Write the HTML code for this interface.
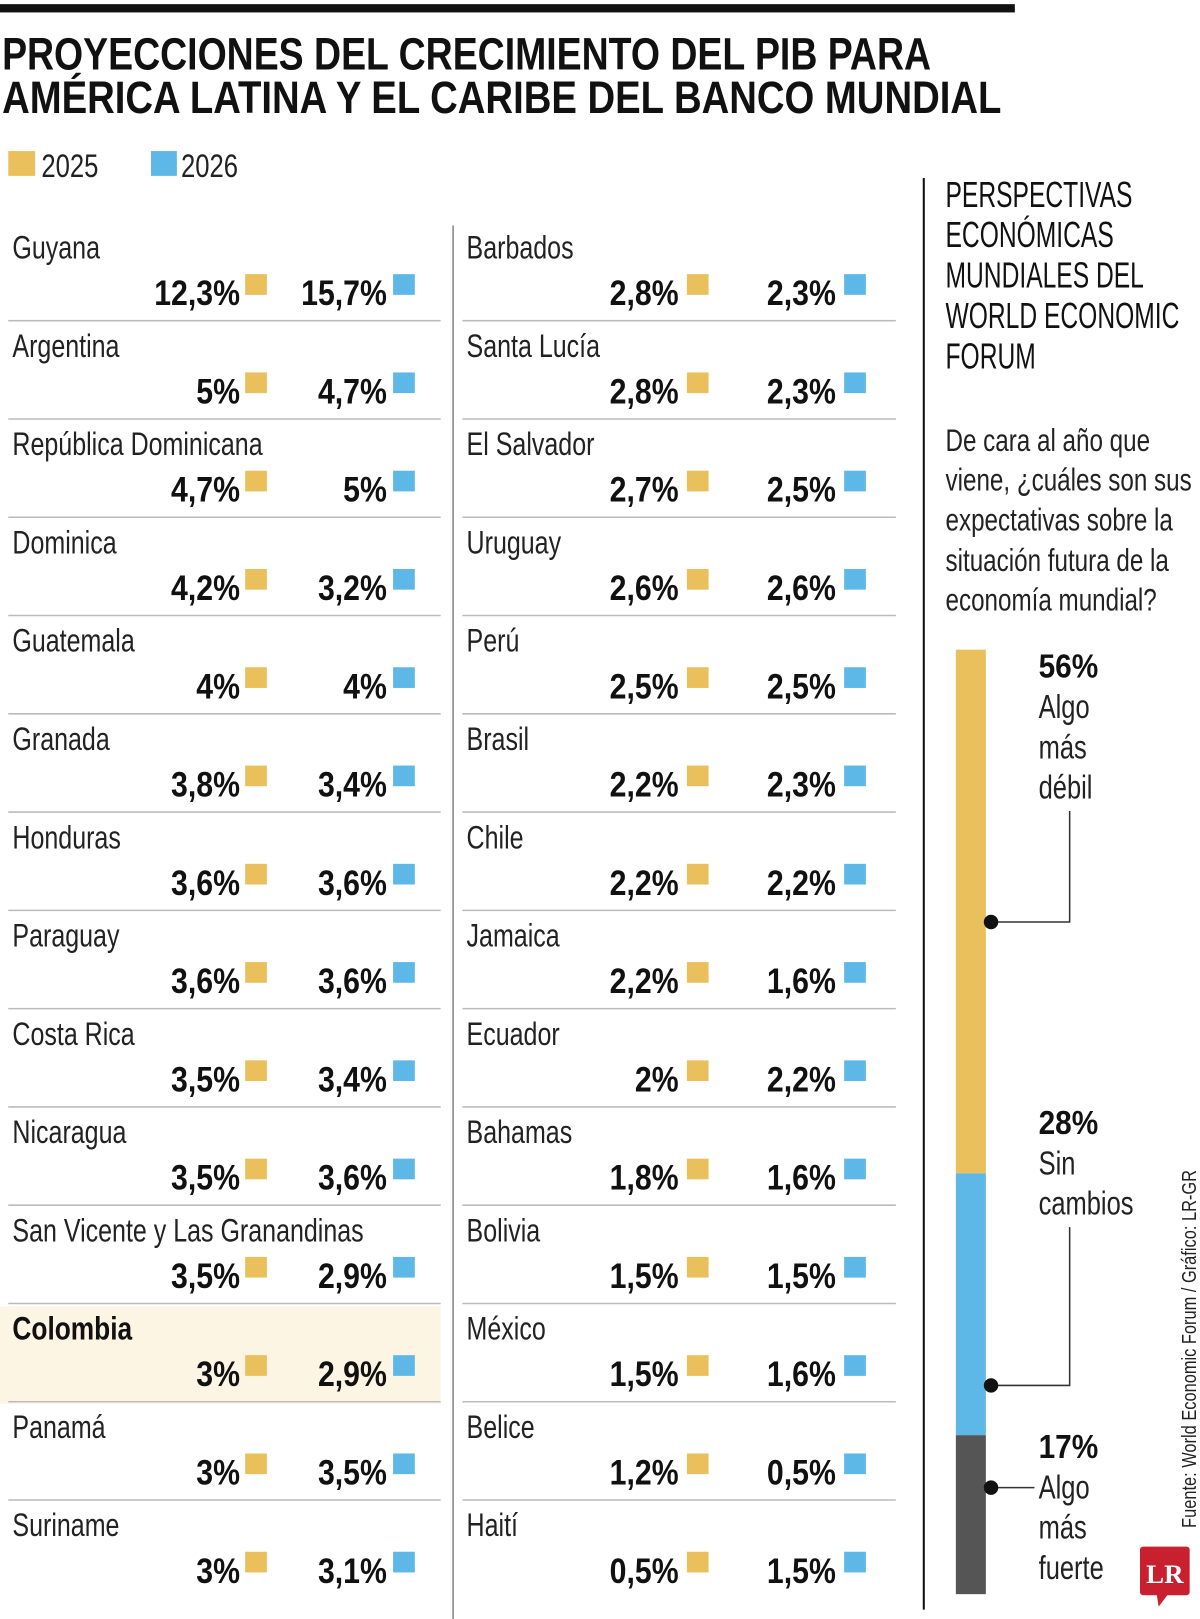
<!DOCTYPE html>
<html><head><meta charset="utf-8"><style>
html,body{margin:0;padding:0;background:#fff;}
svg{display:block;}
text{font-family:"Liberation Sans Narrow","Liberation Sans",sans-serif;}
</style></head><body>
<svg id="chart" width="1200" height="1619" viewBox="0 0 1160 1565" xmlns="http://www.w3.org/2000/svg">
<rect x="0" y="0" width="1160" height="1565" fill="#fff"/>
<rect x="0" y="4" width="981" height="8" fill="#111"/>
<text x="2" y="67" font-size="44" font-weight="bold" fill="#111" textLength="898" lengthAdjust="spacingAndGlyphs">PROYECCIONES DEL CRECIMIENTO DEL PIB PARA</text>
<text x="2" y="109" font-size="44" font-weight="bold" fill="#111" textLength="966" lengthAdjust="spacingAndGlyphs">AMÉRICA LATINA Y EL CARIBE DEL BANCO MUNDIAL</text>
<g>
<rect x="8" y="146" width="26" height="24" fill="#e9c05b"/>
<text transform="translate(40,171) scale(0.8,1)" font-size="31" fill="#222">2025</text>
<rect x="146" y="146" width="25" height="24" fill="#5db8e8"/>
<text transform="translate(175,171) scale(0.8,1)" font-size="31" fill="#222">2026</text>
</g>
<rect x="0" y="1263" width="426" height="94" fill="#fdf5e4"/>
<line x1="438" y1="218" x2="438" y2="1565" stroke="#888" stroke-width="1.5"/>
<line x1="893" y1="172" x2="893" y2="1556" stroke="#111" stroke-width="2"/>
<g id="rows"></g>

<g>
<text transform="translate(914,0) scale(0.68,1)" font-size="35" fill="#111">
<tspan x="0" y="200">PERSPECTIVAS</tspan><tspan x="0" y="239">ECONÓMICAS</tspan><tspan x="0" y="278">MUNDIALES DEL</tspan><tspan x="0" y="317">WORLD ECONOMIC</tspan><tspan x="0" y="356">FORUM</tspan></text>
<text transform="translate(914,0) scale(0.78,1)" font-size="30" fill="#222">
<tspan x="0" y="436">De cara al año que</tspan><tspan x="0" y="474">viene, ¿cuáles son sus</tspan><tspan x="0" y="513">expectativas sobre la</tspan><tspan x="0" y="552">situación futura de la</tspan><tspan x="0" y="590">economía mundial?</tspan></text>
<g id="stack"></g>
<text transform="translate(1156,1477) rotate(-90)" font-size="20" fill="#222" textLength="346" lengthAdjust="spacingAndGlyphs">Fuente: World Economic Forum / Gráfico: LR-GR</text>
<g>
<rect x="1102" y="1495" width="48" height="47" rx="3" fill="#c8202f"/>
<polygon points="1118,1540 1130,1540 1120,1553" fill="#c8202f"/>
<text x="1126" y="1530" style="font-family:'Liberation Serif',serif" font-size="26" font-weight="bold" fill="#fff" text-anchor="middle">LR</text>
</g>
</g>
</svg>
<script>
const leftCountries=["Guyana","Argentina","República Dominicana","Dominica","Guatemala","Granada","Honduras","Paraguay","Costa Rica","Nicaragua","San Vicente y Las Granandinas","Colombia","Panamá","Suriname"];
const left2025=[12.3,5,4.7,4.2,4,3.8,3.6,3.6,3.5,3.5,3.5,3,3,3];
const left2026=[15.7,4.7,5,3.2,4,3.4,3.6,3.6,3.4,3.6,2.9,2.9,3.5,3.1];
const rightCountries=["Barbados","Santa Lucía","El Salvador","Uruguay","Perú","Brasil","Chile","Jamaica","Ecuador","Bahamas","Bolivia","México","Belice","Haití"];
const right2025=[2.8,2.8,2.7,2.6,2.5,2.2,2.2,2.2,2,1.8,1.5,1.5,1.2,0.5];
const right2026=[2.3,2.3,2.5,2.6,2.5,2.3,2.2,1.6,2.2,1.6,1.5,1.6,0.5,1.5];
const stackLabels=["Algo más débil","Sin cambios","Algo más fuerte"];
const stackValues=[56,28,17];

const NS="http://www.w3.org/2000/svg";
function mk(tag,attrs,parent){const e=document.createElementNS(NS,tag);for(const k in attrs)e.setAttribute(k,attrs[k]);parent.appendChild(e);return e;}
function tx(x,y,sx,attrs,parent){attrs.transform=`translate(${x},${y}) scale(${sx},1)`;attrs.x=0;attrs.y=0;return mk('text',attrs,parent);}
function fmt(v){return String(v).replace('.',',')+'%';}
const rows=document.getElementById('rows');
const rowY=i=>215+i*95;
function column(names,a,b,x0,x1,vx1,sq1,vx2,sq2,col){
  names.forEach((n,i)=>{
    const y=rowY(i);
    const g=mk('g',{},rows);
    
    
    const bold=n==='Colombia';
    const t=tx(x0+4,y+35,bold?0.82:0.78,{'font-size':31,fill:bold?'#111':'#222'},g);
    t.textContent=n;
    if(bold)t.setAttribute('font-weight','bold');
    
    
    const v1=tx(vx1,y+80,0.86,{'font-size':34,'font-weight':'bold',fill:'#111','text-anchor':'end'},g);
    v1.textContent=fmt(a[i]);
    
    
    const s1=mk('rect',{x:sq1,y:y+50,width:21,height:20,fill:'#e9c05b'},g);
    
    
    const v2=tx(vx2,y+80,0.86,{'font-size':34,'font-weight':'bold',fill:'#111','text-anchor':'end'},g);
    v2.textContent=fmt(b[i]);
    
    
    const s2=mk('rect',{x:sq2,y:y+50,width:21,height:20,fill:'#5db8e8'},g);
    
    
    if(i<names.length-1){
      const l=mk('line',{x1:x0,x2:x1,y1:y+95,y2:y+95,stroke:'#bbb','stroke-width':1.5},g);
      
      
    }
  });
}
column(leftCountries,left2025,left2026,8,426,232,237,374,380,'left');
column(rightCountries,right2025,right2026,447,866,656,664,808,816,'right');

const st=document.getElementById('stack');
const barTop=628,barBot=1541,bx=924,bw=29;
const total=stackValues.reduce((s,v)=>s+v,0);
const sy=v=>(barBot-barTop)*v/total;
const colors=["#e9c05b","#5db8e8","#555555"];
let cy=barTop;
const segs=[];
stackValues.forEach((v,i)=>{
  const h=sy(v);
  const r=mk('rect',{x:bx,y:cy,width:bw,height:h,fill:colors[i]},st);
  
  
  segs.push([cy,h]);cy+=h;
});
const labTops=[segs[0][0],segs[1][0]-65,segs[2][0]-5];
const dotYs=[segs[0][0]+segs[0][1]*0.52,segs[1][0]+segs[1][1]*0.81,segs[2][0]+segs[2][1]*0.33];
stackValues.forEach((v,i)=>{
  const ty=labTops[i]+27;
  const p=tx(1004,ty,0.9,{'font-size':32,'font-weight':'bold',fill:'#111'},st);
  p.textContent=v+'%';
  
  
  const lt=mk('text',{'font-size':32,fill:'#222',transform:'translate(1004,0) scale(0.77,1)'},st);
  
  
  let lines=i===1?['Sin','cambios']:stackLabels[i].split(' ');
  lines.forEach((w,j)=>{const ts=mk('tspan',{x:0,y:ty+39*(j+1)},lt);ts.textContent=w;});
  const lastY=ty+39*lines.length;
  const dy=dotYs[i];
  let d;
  if(i<2) d=`M958 ${dy} H1034 V${lastY+12}`; else d=`M958 ${dy} H1000`;
  const ln=mk('path',{d:d,fill:'none',stroke:'#333','stroke-width':1.5},st);
  
  
  const c=mk('circle',{cx:958,cy:dy,r:7,fill:'#111'},st);
  
  
});
</script>
</body></html>
